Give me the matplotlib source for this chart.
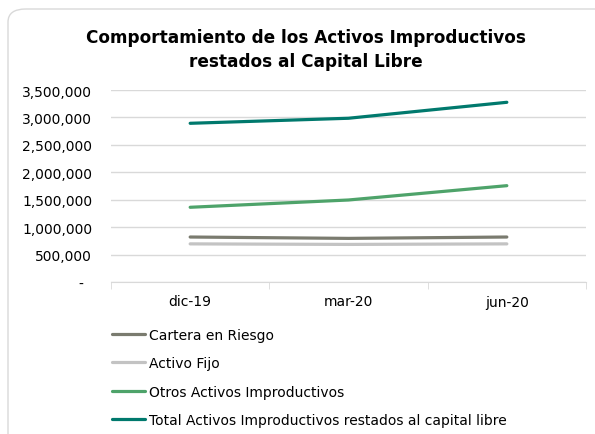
import matplotlib
matplotlib.use("Agg")
from matplotlib import pyplot as plt
from matplotlib.patches import FancyBboxPatch
from matplotlib.ticker import FuncFormatter, FixedLocator

# --- data ---
periods = ["dic-19", "mar-20", "jun-20"]
cartera_riesgo = [820000, 795000, 820000]
activo_fijo = [695000, 685000, 695000]
otros_activos = [1362000, 1495000, 1756000]
total_activos = [2893000, 2985000, 3276000]

series_names = [
    "Cartera en Riesgo",
    "Activo Fijo",
    "Otros Activos Improductivos",
    "Total Activos Improductivos restados al capital libre",
]
series_values = [cartera_riesgo, activo_fijo, otros_activos, total_activos]
series_colors = ["#7a7b6f", "#c3c3c3", "#4ea36a", "#00796d"]

plt.rcParams["font.family"] = ["DejaVu Sans"]

fig = plt.figure(figsize=(5.95, 4.35), dpi=100)

# rounded frame around the chart area
frame = FancyBboxPatch((8 / 595, -0.1), 1.2, 1.1 - 10 / 435,
                       boxstyle="round,pad=0,rounding_size=0.03",
                       transform=fig.transFigure, facecolor="none",
                       edgecolor="#d9d9d9", linewidth=1.0, zorder=-1)
fig.patches.append(frame)

ax = fig.add_axes([111 / 595, 1 - 283 / 435, 475 / 595, 192 / 435])
ax.set_facecolor("none")

x = list(range(len(periods)))
for name, vals, col in zip(series_names, series_values, series_colors):
    ax.plot(x, vals, color=col, linewidth=2.3, label=name, solid_capstyle="round")

ax.set_xlim(-0.5, len(periods) - 0.5)
ax.set_ylim(0, 3500000)
ax.set_yticks(range(0, 3500001, 500000))
# accounting style: zero shown as a dash with some padding
ax.yaxis.set_major_formatter(FuncFormatter(lambda v, p: "-  " if v == 0 else f"{int(v):,}"))
ax.grid(axis="y", color="#d9d9d9", linewidth=1)
ax.set_axisbelow(True)

ax.set_xticks(x)
ax.set_xticklabels(periods)
ax.xaxis.set_minor_locator(FixedLocator([i - 0.5 for i in range(len(periods) + 1)]))
ax.tick_params(axis="x", which="major", length=0, pad=9, labelsize=10, colors="#000000")
ax.tick_params(axis="x", which="minor", length=5, color="#d9d9d9", direction="out")
ax.tick_params(axis="y", length=0, pad=13.5, labelsize=10)

for s in ["left", "right", "top"]:
    ax.spines[s].set_visible(False)
ax.spines["bottom"].set_color("#d9d9d9")

fig.text(0.514, 1 - 50 / 435, "Comportamiento de los Activos Improductivos\nrestados al Capital Libre",
         ha="center", va="center", fontsize=12.2, fontweight="bold", linespacing=1.45)

fig.legend(loc="upper left", bbox_to_anchor=(106 / 595, 1 - 323 / 435),
           frameon=False, fontsize=10, handlelength=2.4, handletextpad=0.3,
           labelspacing=1.05, borderaxespad=0)

fig.savefig("out.png", dpi=100)
